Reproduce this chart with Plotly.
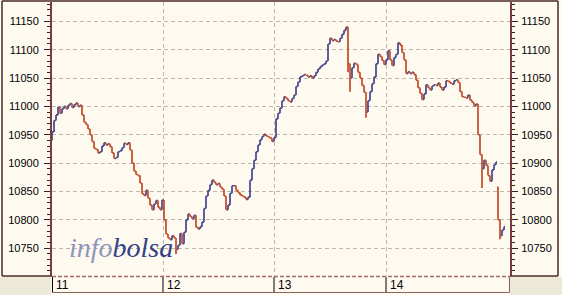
import plotly.graph_objects as go

# ---------------- data ----------------
day_labels = ["11", "12", "13", "14"]
day_starts = [0, 55.5, 111, 167]          # bar index where each session starts

closes = [
    # day 11
    10955, 10975, 10985, 10999, 10988, 10996, 11000, 10996, 11002, 11005,
    10998, 11003, 11006, 11000, 11002, 10985, 10972, 10968, 10960, 10950,
    10938, 10926, 10924, 10918, 10920, 10930, 10936, 10932, 10934, 10929,
    10918, 10908, 10910, 10920, 10922, 10927, 10935, 10933, 10936, 10923,
    10900, 10886, 10880, 10878, 10865, 10846, 10843, 10852, 10838, 10826,
    10818, 10828, 10834, 10822, 10818, 10835,
    # day 12
    10800, 10775, 10768, 10765, 10772, 10768, 10748, 10755, 10776, 10758,
    10778, 10800, 10810, 10806, 10802, 10808, 10787, 10784, 10788, 10796,
    10820, 10842, 10852, 10862, 10870, 10866, 10862, 10864, 10858, 10854,
    10842, 10818, 10826, 10847, 10860, 10860, 10852, 10848, 10844, 10842,
    10840, 10836, 10840, 10870, 10890, 10905, 10920, 10932, 10941, 10947,
    10951, 10948, 10946, 10944, 10938, 10945,
    # day 13
    10978, 10988, 10997, 11010, 11017, 11014, 11010, 11008, 11014, 11020,
    11035, 11043, 11052, 11054, 11056, 11055, 11052, 11054, 11050, 11054,
    11060, 11066, 11070, 11073, 11075, 11080, 11110, 11120, 11116, 11118,
    11115, 11114, 11120, 11127, 11134, 11140, 11075, 11050, 11068, 11076,
    11074, 11060, 11050, 11037, 11025, 10990, 11010, 11026, 11040, 11052,
    11075, 11092, 11088, 11081, 11074, 11082,
    # day 14
    11098, 11082, 11072, 11086, 11092, 11112, 11108, 11095, 11082, 11058,
    11061, 11058, 11060, 11056, 11046, 11033, 11023, 11012, 11022, 11038,
    11033, 11029, 11036, 11038, 11037, 11041, 11034, 11029, 11034, 11045,
    11044, 11041, 11039, 11045, 11047, 11042, 11026, 11017, 11016, 11015,
    11020, 11011, 11007, 11001, 11004, 10950, 10915, 10890, 10905, 10896,
    10878, 10868, 10888, 10897, 10902, 10800, 10772, 10782, 10788,
]
first_open = 10942
gap_idx = [223]          # bars that open away from the previous close
gap_open = [10858]
wick_idx = [0, 62, 148, 149, 157, 215, 224]
wick_low = [10940, 10740, 11060, 11026, 10980, 10856, 10766]

y_ticks = [10750, 10800, 10850, 10900, 10950, 11000, 11050, 11100, 11150]

# ---------------- build OHLC from the readings ----------------
n = len(closes)
bars = list(range(n))
opens = [first_open] + closes[:-1]
for i, o in zip(gap_idx, gap_open):
    opens[i] = o
highs = [max(o, c) for o, c in zip(opens, closes)]
lows = [min(o, c) for o, c in zip(opens, closes)]
for i, lo in zip(wick_idx, wick_low):
    lows[i] = min(lows[i], lo)

UP = "#3a3a88"
DOWN = "#c0401a"
BG = "#fefaf0"
GREY = "#ece9d8"
AXIS = "#7a3c3c"
GRID = "#bdb6aa"

fig = go.Figure()
fig.add_trace(go.Ohlc(
    x=bars, open=opens, high=highs, low=lows, close=closes,
    increasing=dict(line=dict(color=UP, width=1.6)),
    decreasing=dict(line=dict(color=DOWN, width=1.6)),
    tickwidth=0.45, showlegend=False, hoverinfo="skip",
))
fig.add_trace(go.Scatter(x=[bars[0]], y=[closes[0]], yaxis="y2", mode="markers",
                         marker=dict(opacity=0), showlegend=False, hoverinfo="skip"))

W, H = 562, 295
L, R, T, B = 52, 52, 2, 19
PW, PH = W - L - R, H - T - B


def px(p):
    return (p - L) / PW


def py(p):
    return (T + PH - p) / PH


yaxis_common = dict(
    range=[10701, 11184], tickvals=y_ticks, tickformat="d", ticks="outside", ticklen=6,
    tickcolor="#3a2020", tickwidth=1,
    minor=dict(dtick=10, tick0=10700, ticks="outside", ticklen=3, tickcolor="#3a2020",
               showgrid=False),
    showline=True, linecolor=AXIS, linewidth=2,
    tickfont=dict(family="Liberation Sans, Arial", size=11, color="#000000"),
    zeroline=False, fixedrange=True,
)

fig.update_layout(
    width=W, height=H,
    margin=dict(l=L, r=R, t=T, b=B, pad=0),
    paper_bgcolor=BG, plot_bgcolor=BG,
    xaxis=dict(range=[0, PW / 2], tickvals=day_starts, showticklabels=False,
               ticks="", showgrid=True, gridcolor=GRID, griddash="4px,3px", gridwidth=1,
               showline=False, zeroline=False, rangeslider=dict(visible=False),
               fixedrange=True),
    yaxis=dict(**yaxis_common, side="left", showgrid=True, gridcolor=GRID,
               griddash="4px,3px", gridwidth=1, ticklabelstandoff=3),
    yaxis2=dict(**yaxis_common, side="right", overlaying="y", showgrid=False,
                ticklabelstandoff=1),
    showlegend=False,
)

shapes = []
# grey corners below side panels
shapes.append(dict(type="rect", xref="paper", yref="paper", x0=px(0), x1=px(51),
                   y0=py(277), y1=py(296), fillcolor=GREY, line=dict(width=0), layer="below"))
shapes.append(dict(type="rect", xref="paper", yref="paper", x0=px(510), x1=px(563),
                   y0=py(277), y1=py(296), fillcolor=GREY, line=dict(width=0), layer="below"))
# outer frame
frame = "#4a2a2a"
for (x0, y0, x1, y1) in [(2, 1, 558, 1), (2, 1, 2, 276), (558, 1, 558, 276),
                         (2, 276, 52, 276), (510, 276, 558, 276)]:
    shapes.append(dict(type="line", xref="paper", yref="paper", x0=px(x0), x1=px(x1),
                       y0=py(y0), y1=py(y1), line=dict(color=frame, width=1.5)))
# dashed bottom of plot area
shapes.append(dict(type="line", xref="paper", yref="paper", x0=px(52), x1=px(510),
                   y0=py(276.5), y1=py(276.5), line=dict(color="#a86a6a", width=1.5, dash="4px,2px")))
# date strip
shapes.append(dict(type="line", xref="paper", yref="paper", x0=px(52), x1=px(509.5),
                   y0=py(292.5), y1=py(292.5), line=dict(color="#8a6060", width=1)))
shapes.append(dict(type="line", xref="paper", yref="paper", x0=px(509.5), x1=px(509.5),
                   y0=py(277), y1=py(292.5), line=dict(color="#8a6060", width=1)))
for k, d in enumerate(day_starts):
    shapes.append(dict(type="line", xref="x", yref="paper", x0=d, x1=d,
                       y0=py(277), y1=py(292), line=dict(color="#000000", width=2 if k == 0 else 1)))

annotations = []
for d, lab in zip(day_starts, day_labels):
    annotations.append(dict(x=d, xref="x", y=py(285), yref="paper", text=lab,
                            showarrow=False, xanchor="left", yanchor="middle", xshift=2,
                            font=dict(family="Liberation Sans, Arial", size=12, color="#000000")))
annotations.append(dict(
    x=px(67), y=py(265), xref="paper", yref="paper", xanchor="left", yanchor="bottom",
    showarrow=False,
    text="<i><span style='color:#8e94bb'>info</span><span style='color:#34408a'>bolsa</span></i>",
    font=dict(family="Liberation Serif", size=28),
))

fig.update_layout(shapes=shapes, annotations=annotations)
fig.write_html("out.html")
